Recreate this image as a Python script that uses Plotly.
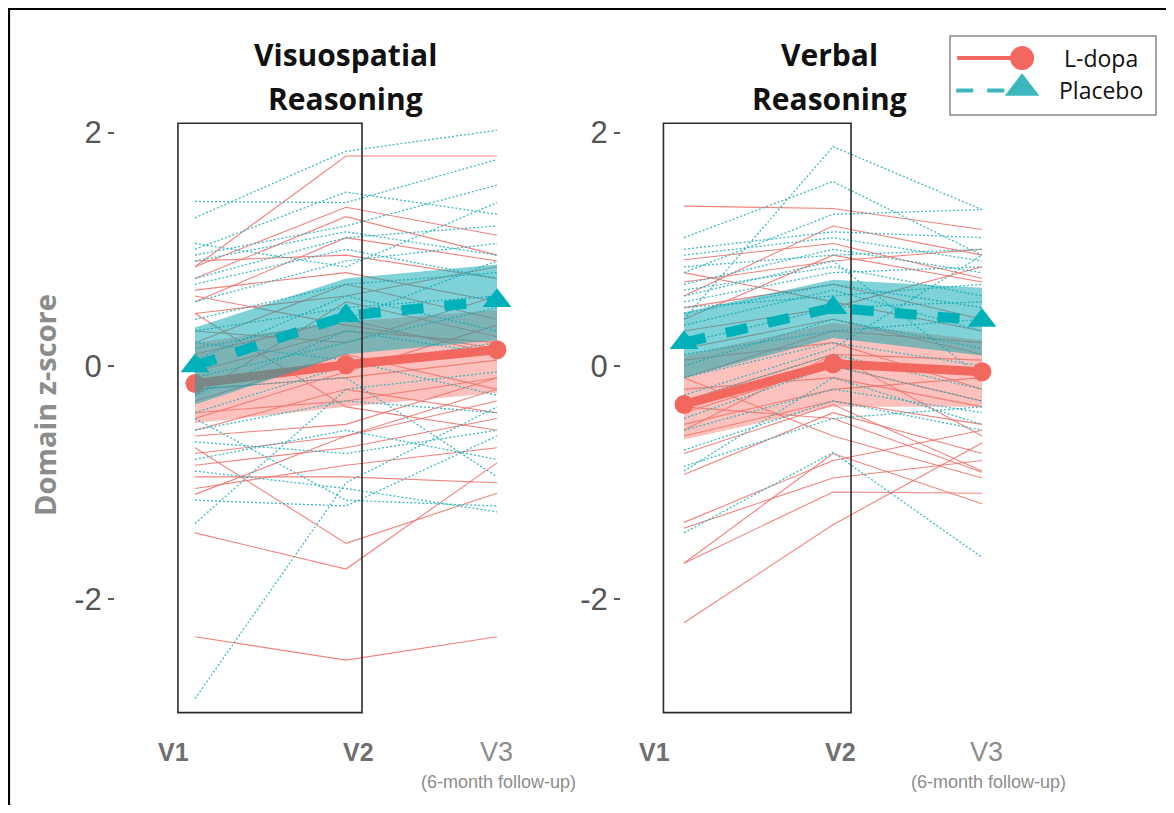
import plotly.graph_objects as go

# ---------------- data ----------------
visits = [1, 2, 3]
visit_labels = ["V1", "V2", "V3"]
followup_label = "(6-month follow-up)"
panel_titles = ["Visuospatial", "Verbal"]
panel_title_line2 = "Reasoning"
group_names = ["L-dopa", "Placebo"]
ytick_vals = [-2, 0, 2]
ytick_text = ["-2", "0", "2"]

# Visuospatial reasoning: group means and confidence band limits (V1, V2, V3)
vs_ldopa_mean = [-0.15, 0.01, 0.14]
vs_ldopa_lo = [-0.49, -0.35, -0.23]
vs_ldopa_hi = [0.20, 0.38, 0.48]
vs_placebo_mean = [0.00, 0.43, 0.56]
vs_placebo_lo = [-0.33, 0.10, 0.22]
vs_placebo_hi = [0.33, 0.75, 0.87]

# Verbal reasoning
vb_ldopa_mean = [-0.33, 0.02, -0.05]
vb_ldopa_lo = [-0.63, -0.35, -0.35]
vb_ldopa_hi = [0.09, 0.37, 0.22]
vb_placebo_mean = [0.20, 0.50, 0.39]
vb_placebo_lo = [-0.10, 0.24, 0.09]
vb_placebo_hi = [0.46, 0.74, 0.67]

# individual participants (V1, V2, V3)
vs_ldopa_subj = [
    [0.85, 1.80, 1.80], [0.85, 1.36, 1.12], [0.75, 1.28, 0.95], [0.55, 1.10, 0.90],
    [0.90, 0.95, 0.75], [0.65, 0.80, 0.55], [0.45, 0.60, 0.85], [0.20, 0.70, 0.40],
    [0.30, 0.20, 0.60], [0.10, 0.40, 0.10], [-0.05, 0.30, 0.20], [-0.20, -0.10, 0.05],
    [-0.30, 0.10, -0.20], [-0.40, -0.30, -0.10], [-0.55, -0.20, -0.40], [-0.60, -0.50, -0.10],
    [-0.75, -0.60, -0.30], [-0.85, -0.70, -0.45], [-0.95, -0.95, -1.00], [-1.05, -0.85, -0.70],
    [-1.10, -0.60, -0.20], [-1.43, -1.74, -0.83], [-0.70, -1.52, -1.09], [-2.32, -2.52, -2.32],
    [0.45, -0.35, -0.55], [-0.25, 0.55, 0.25], [0.60, 0.35, 0.15], [-0.45, -0.05, 0.35],
]
vs_placebo_subj = [
    [1.27, 1.84, 2.02], [1.41, 1.40, 1.77], [1.00, 1.49, 1.30], [0.95, 1.20, 1.55],
    [0.90, 1.15, 0.95], [0.75, 1.10, 1.20], [0.70, 1.00, 0.75], [0.55, 0.90, 1.05],
    [0.40, 0.70, 0.80], [0.30, 0.50, 0.60], [0.15, 0.40, 0.90], [0.05, 0.60, 0.30],
    [-0.10, 0.20, 0.50], [-0.25, 0.30, 0.10], [-0.40, 0.00, 0.20], [-0.55, -0.30, -0.40],
    [-0.65, -0.75, -0.55], [-0.80, -0.55, -0.80], [-0.90, -1.05, -1.25], [-1.15, -1.20, -0.60],
    [-1.35, -0.20, -0.05], [-2.85, -1.00, -0.35], [-0.45, -1.15, -1.20], [-0.20, -0.10, -0.95],
    [0.20, 0.05, -0.25], [1.05, 0.85, 1.40],
]
vb_ldopa_subj = [
    [1.37, 1.35, 1.17], [0.91, 1.05, 0.75], [0.72, 0.90, 1.00], [0.60, 1.20, 0.95],
    [0.50, 0.70, 0.40], [0.40, 0.95, 0.72], [0.80, 0.55, 0.30], [0.30, 0.50, 0.85],
    [0.15, 0.40, 0.10], [0.05, 0.20, -0.20], [-0.10, 0.30, 0.20], [-0.20, -0.10, -0.35],
    [-0.30, 0.10, 0.05], [-0.40, 0.00, -0.30], [-0.50, -0.20, -0.10], [-0.55, 0.10, -0.60],
    [-0.60, -0.30, -0.50], [-0.75, -0.33, -0.90], [-0.93, -0.40, -0.75], [-0.10, -0.60, -0.96],
    [-1.34, -0.81, -0.55], [-1.39, -0.96, -0.81], [-1.69, -1.08, -1.09], [-1.69, -0.75, -1.18],
    [-2.20, -1.36, -0.66], [-0.35, -0.45, -0.91],
]
vb_placebo_subj = [
    [0.40, 1.88, 1.34], [1.10, 1.58, 0.95], [0.80, 1.30, 1.34], [1.00, 1.15, 1.10],
    [0.95, 1.10, 0.90], [0.85, 0.95, 1.00], [0.70, 1.00, 0.80], [0.65, 0.85, 0.60],
    [0.55, 0.80, 0.85], [0.50, 0.60, 0.70], [0.45, 0.70, 0.50], [0.35, 0.65, 0.30],
    [0.20, 0.50, 0.55], [0.10, 0.30, 0.40], [0.00, 0.40, 0.15], [-0.10, 0.20, 0.00],
    [-0.30, 0.10, -0.20], [-0.45, 0.00, -0.30], [-0.55, -0.20, -0.40], [-0.72, -0.30, -0.55],
    [-0.86, -0.45, -0.35], [-0.90, -0.10, -0.50], [-1.43, -0.74, -1.64], [-0.25, 0.15, 0.95],
    [0.60, 0.90, -0.10],
]

# ---------------- style / layout ----------------
PAGE_OFF = 8                      # default body margin of the page
W, H = 1174 - 2 * PAGE_OFF, 813 - 2 * PAGE_OFF
RED = "#F2685F"
RED_THIN = "rgba(240,118,110,0.9)"
RED_BAND = "rgba(248,118,109,0.45)"
TEAL = "#00B1B9"
TEAL_THIN = "rgba(40,178,190,0.9)"
TEAL_BAND = "rgba(0,165,175,0.5)"
TEAL_LEG = "#3CB8BC"
SANS = "Open Sans, Noto Sans, sans-serif"
ARIAL = "Liberation Sans, Arial, sans-serif"


def px(x):  # page pixel -> paper fraction
    return (x - PAGE_OFF) / W


def py(y):
    return 1 - (y - PAGE_OFF) / H


def xrange_for(dom_a, dom_b, p1, step):
    return [1 + (dom_a - p1) / step, 1 + (dom_b - p1) / step]


Y_ZERO_PX, Y_UNIT_PX = 366, 116.7
y_range = [(Y_ZERO_PX - (H + PAGE_OFF)) / Y_UNIT_PX, (Y_ZERO_PX - PAGE_OFF) / Y_UNIT_PX]

panels = [
    dict(xa="x", ya="y", dom=(115, 560), p1=195, step=151, title=panel_titles[0],
         lm=vs_ldopa_mean, llo=vs_ldopa_lo, lhi=vs_ldopa_hi,
         pm=vs_placebo_mean, plo=vs_placebo_lo, phi=vs_placebo_hi,
         ls=vs_ldopa_subj, ps=vs_placebo_subj, box=(0.887, 2.106),
         labx=(173, 358, 496), tcx=345),
    dict(xa="x2", ya="y2", dom=(621, 1100), p1=684, step=149, title=panel_titles[1],
         lm=vb_ldopa_mean, llo=vb_ldopa_lo, lhi=vb_ldopa_hi,
         pm=vb_placebo_mean, plo=vb_placebo_lo, phi=vb_placebo_hi,
         ls=vb_ldopa_subj, ps=vb_placebo_subj, box=(0.862, 2.121),
         labx=(654, 840, 986), tcx=829),
]

fig = go.Figure()


def spaghetti(subjects):
    xs, ys = [], []
    for s in subjects:
        xs += visits + [None]
        ys += list(s) + [None]
    return xs, ys


for p in panels:
    common = dict(xaxis=p["xa"], yaxis=p["ya"], showlegend=False, hoverinfo="skip")
    fig.add_trace(go.Scatter(x=visits + visits[::-1], y=p["lhi"] + p["llo"][::-1],
                             fill="toself", fillcolor=RED_BAND, line=dict(width=0),
                             mode="lines", **common))
    xs, ys = spaghetti(p["ls"])
    fig.add_trace(go.Scatter(x=xs, y=ys, mode="lines",
                             line=dict(color=RED_THIN, width=1.1), **common))
    xs, ys = spaghetti(p["ps"])
    fig.add_trace(go.Scatter(x=xs, y=ys, mode="lines",
                             line=dict(color=TEAL_THIN, width=1.3, dash="2px,2px"), **common))
    fig.add_trace(go.Scatter(x=visits, y=p["lm"], mode="lines+markers",
                             line=dict(color=RED, width=9),
                             marker=dict(symbol="circle", size=19, color=RED), **common))
    fig.add_trace(go.Scatter(x=visits + visits[::-1], y=p["phi"] + p["plo"][::-1],
                             fill="toself", fillcolor=TEAL_BAND, line=dict(width=0),
                             mode="lines", **common))
    fig.add_trace(go.Scatter(x=visits, y=p["pm"], mode="lines+markers",
                             line=dict(color=TEAL, width=10, dash="22px,21px"),
                             marker=dict(symbol="triangle-up", size=25, color=TEAL), **common))

axis_common_x = dict(showgrid=False, zeroline=False, showline=False, showticklabels=False,
                     ticks="", fixedrange=True)
axis_common_y = dict(showgrid=False, zeroline=False, showline=False, range=y_range,
                     domain=[0, 1], tickvals=ytick_vals, ticktext=ytick_text,
                     ticks="outside", ticklen=6, tickwidth=1.5, tickcolor="#5a5a5a",
                     fixedrange=True,
                     tickfont=dict(family=ARIAL, size=31, color="#555555"))

fig.update_layout(
    xaxis=dict(domain=[px(panels[0]["dom"][0]), px(panels[0]["dom"][1])],
               range=xrange_for(*panels[0]["dom"], panels[0]["p1"], panels[0]["step"]),
               **axis_common_x),
    xaxis2=dict(domain=[px(panels[1]["dom"][0]), px(panels[1]["dom"][1])],
                range=xrange_for(*panels[1]["dom"], panels[1]["p1"], panels[1]["step"]),
                **axis_common_x),
    yaxis=dict(anchor="x", **axis_common_y),
    yaxis2=dict(anchor="x2", **axis_common_y),
    xaxis3=dict(domain=[px(950), px(1156)], range=[0, 1], visible=False, fixedrange=True),
    yaxis3=dict(domain=[py(115), py(36)], range=[0, 1], visible=False, fixedrange=True,
                anchor="x3"),
)

# legend glyphs
leg = dict(xaxis="x3", yaxis="y3", showlegend=False, hoverinfo="skip")
fig.add_trace(go.Scatter(x=[0.035, 0.3], y=[0.72, 0.72], mode="lines",
                         line=dict(color=RED, width=4), **leg))
fig.add_trace(go.Scatter(x=[0.35], y=[0.72], mode="markers",
                         marker=dict(symbol="circle", size=24, color=RED), **leg))
fig.add_trace(go.Scatter(x=[0.03, 0.3], y=[0.31, 0.31], mode="lines",
                         line=dict(color=TEAL_LEG, width=4, dash="17px,14px"), **leg))
fig.add_trace(go.Scatter(x=[0.35], y=[0.34], mode="markers",
                         marker=dict(symbol="triangle-up", size=30, color=TEAL_LEG), **leg))

shapes = []
for p in panels:
    shapes.append(dict(type="rect", xref=p["xa"], yref=p["ya"], x0=p["box"][0], x1=p["box"][1],
                       y0=-2.97, y1=2.08, line=dict(color="#2b2b2b", width=1.6),
                       fillcolor="rgba(0,0,0,0)", layer="above"))
shapes.append(dict(type="rect", xref="paper", yref="paper", x0=px(950), x1=px(1156),
                   y0=py(115), y1=py(36), line=dict(color="#8a8a8a", width=1.5),
                   fillcolor="rgba(0,0,0,0)"))
# outer frame (left and top edges)
shapes.append(dict(type="line", xref="paper", yref="paper", x0=px(9), x1=px(9),
                   y0=-0.02, y1=py(8), line=dict(color="black", width=2.2)))
shapes.append(dict(type="line", xref="paper", yref="paper", x0=px(8), x1=1.02,
                   y0=py(9), y1=py(9), line=dict(color="black", width=2.2)))

annotations = []
title_font = dict(family=SANS, size=30, color="#111111")
for p in panels:
    annotations.append(dict(text="<b>%s</b>" % p["title"], x=px(p["tcx"]), y=py(55),
                            xref="paper", yref="paper", showarrow=False, font=title_font,
                            xanchor="center", yanchor="middle"))
    annotations.append(dict(text="<b>%s</b>" % panel_title_line2, x=px(p["tcx"]), y=py(98),
                            xref="paper", yref="paper", showarrow=False, font=title_font,
                            xanchor="center", yanchor="middle"))
    for i, lab in enumerate(visit_labels):
        if i < 2:
            txt, col, sz = "<b>%s</b>" % lab, "#6f6f6f", 25
        else:
            txt, col, sz = lab, "#8c8c8c", 27
        annotations.append(dict(text=txt, x=px(p["labx"][i]), y=py(752), xref="paper",
                                yref="paper", showarrow=False, xanchor="center",
                                yanchor="middle", font=dict(family=ARIAL, size=sz, color=col)))
    annotations.append(dict(text=followup_label, x=px(p["labx"][2] + 2), y=py(782),
                            xref="paper", yref="paper", showarrow=False, xanchor="center",
                            yanchor="middle", font=dict(family=ARIAL, size=18, color="#8c8c8c")))

annotations.append(dict(text="<b>Domain z-score</b>", x=px(45), y=py(405), xref="paper",
                        yref="paper", showarrow=False, textangle=-90, xanchor="center",
                        yanchor="middle", font=dict(family=SANS, size=29, color="#8c8c8c")))
for name, yy in zip(group_names, [58, 90]):
    annotations.append(dict(text=name, x=px(1101), y=py(yy), xref="paper", yref="paper",
                            showarrow=False, xanchor="center", yanchor="middle",
                            font=dict(family=SANS, size=23, color="#111111")))

fig.update_layout(width=W, height=H, margin=dict(l=0, r=0, t=0, b=0),
                  paper_bgcolor="white", plot_bgcolor="rgba(0,0,0,0)",
                  shapes=shapes, annotations=annotations, showlegend=False)

fig.write_html("out.html")
